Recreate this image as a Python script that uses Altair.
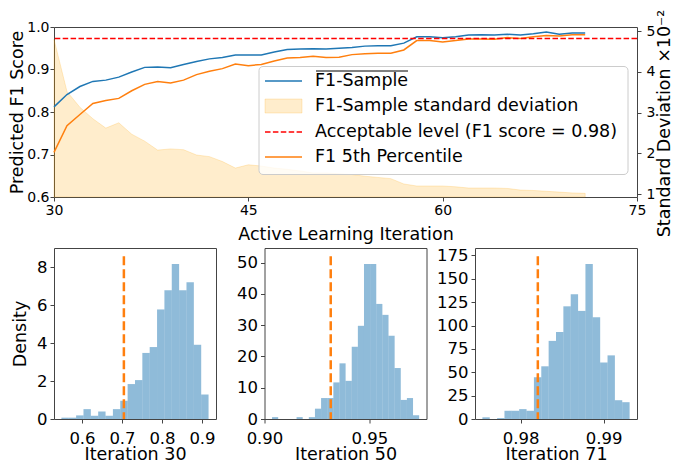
import altair as alt
import numpy as np
import pandas as pd

FONT = "DejaVu Sans"

# ---------------- top panel data ----------------
iterations = list(range(30, 72))
f1_mean = [0.812, 0.841, 0.860, 0.872, 0.875, 0.882, 0.894, 0.905, 0.906, 0.904,
           0.912, 0.919, 0.925, 0.928, 0.934, 0.934, 0.934, 0.941, 0.947, 0.948,
           0.949, 0.948, 0.950, 0.952, 0.955, 0.956, 0.956, 0.962, 0.977, 0.977,
           0.975, 0.977, 0.981, 0.982, 0.981, 0.983, 0.981, 0.984, 0.988, 0.983,
           0.986, 0.986]
f1_p5 = [0.705, 0.768, 0.794, 0.820, 0.827, 0.832, 0.850, 0.865, 0.872, 0.868,
         0.875, 0.888, 0.896, 0.902, 0.913, 0.909, 0.912, 0.920, 0.927, 0.928,
         0.931, 0.928, 0.929, 0.935, 0.937, 0.938, 0.938, 0.946, 0.968, 0.968,
         0.965, 0.968, 0.972, 0.972, 0.971, 0.975, 0.973, 0.977, 0.980, 0.979,
         0.982, 0.982]
std_dev = [4.80, 3.52, 3.13, 2.85, 2.62, 2.75, 2.47, 2.30, 2.08, 2.11,
           2.09, 1.96, 1.92, 1.80, 1.64, 1.72, 1.69, 1.64, 1.61, 1.57,
           1.52, 1.52, 1.50, 1.48, 1.44, 1.41, 1.38, 1.25, 1.20, 1.20,
           1.20, 1.18, 1.15, 1.15, 1.15, 1.14, 1.10, 1.09, 1.07, 1.05,
           1.03, 1.02]
acceptable_level = 0.973
legend_labels = ["F1-Sample", "F1-Sample standard deviation",
                 "Acceptable level (F1 score = 0.98)", "F1 5th Percentile"]

# ---------------- histogram data ----------------
h30_range = [0.5485, 0.9164]
h30_density = [0.07, 0.07, 0.19, 0.52, 0.17, 0.40, 0.17, 0.52, 0.96, 1.84,
               2.05, 3.48, 3.79, 5.77, 6.78, 8.17, 6.78, 7.20, 3.91, 1.29]
h30_p5 = 0.7047

h50_range = [0.9036, 0.9738]
h50_density = [0.6, 0, 0, 0, 0.6, 0, 0.6, 3.3, 6.7, 6.7, 11.7, 17.8,
               12.2, 23.1, 29.8, 49.6, 49.6, 36.8, 33.3, 26.6, 16.3, 6.1, 6.7, 1.2]
h50_p5 = 0.9316

h71_range = [0.97538, 0.99312]
h71_density = [1.8, 0, 1.0, 8.8, 8.8, 10.6, 8.8, 44.8, 56.4, 83.6,
               93.1, 120.6, 133.6, 115.7, 166.0, 109.0, 60.6, 68.1, 20.1, 18.0]
h71_p5 = 0.98206

TOP_W, TOP_H = 583, 170
H_W, H_H = 162, 171
H_SPACING = (TOP_W - 3 * H_W) / 2
TICK_TOP = 14
TICK_H = 16.5
TITLE_FS = 17.5

BLUE = "#1f77b4"
ORANGE = "#ff7f0e"

df_top = pd.DataFrame({"iteration": iterations, "mean": f1_mean,
                       "p5": f1_p5, "std": std_dev})

x_top = alt.X("iteration:Q",
              scale=alt.Scale(domain=[30, 75], nice=False, zero=False),
              axis=alt.Axis(values=[30, 45, 60, 75], title="Active Learning Iteration",
                            labelFontSize=TICK_TOP, labelFlush=False, labelOverlap=False,
                            labelPadding=2.5, titlePadding=8))


def y_f1(field):
    return alt.Y(field, scale=alt.Scale(domain=[0.6, 1.0], nice=False, zero=False),
                 axis=alt.Axis(orient="left", values=[0.6, 0.7, 0.8, 0.9, 1.0], format=".1f",
                               title="Predicted F1 Score", labelFontSize=TICK_TOP,
                               labelOverlap=False, labelPadding=1, titlePadding=0))


STD_MIN = 0.93
area = alt.Chart(df_top).mark_area(fill="orange", fillOpacity=0.2, stroke="orange",
                                   strokeOpacity=0.2, strokeWidth=1).encode(
    x=x_top,
    y=alt.Y("std:Q", scale=alt.Scale(domain=[STD_MIN, 5.1], nice=False, zero=False),
            axis=alt.Axis(orient="right", values=[1, 2, 3, 4, 5], format="d",
                          title="Standard Deviation ×10⁻²", labelFontSize=TICK_TOP,
                          labelOverlap=False, labelPadding=5, titlePadding=1,
                          titleAngle=270, titleBaseline="top", titleY=96)),
    y2=alt.datum(STD_MIN),
)

blue = alt.Chart(df_top).mark_line(color=BLUE, strokeWidth=1.5).encode(x=x_top, y=y_f1("mean:Q"))
orange = alt.Chart(df_top).mark_line(color=ORANGE, strokeWidth=1.5).encode(x=x_top, y=y_f1("p5:Q"))
red = alt.Chart(pd.DataFrame({"lvl": [acceptable_level]})).mark_rule(
    color="red", strokeDash=[5.5, 2.4], strokeWidth=1.5).encode(y=y_f1("lvl:Q"))

f1_layer = alt.layer(blue, orange, red)

dummy = pd.DataFrame({"a": [0]})
LX0, LX1, LY0, LY1 = 205, 574, 39.5, 147.5
rows = [54, 79, 105, 130]
SW0, SW1, TX = 211, 248, 261

leg_box = alt.Chart(dummy).mark_rect(fill="white", fillOpacity=0.8, stroke="#cccccc",
                                     strokeWidth=1, cornerRadius=4).encode(
    x=alt.value(LX0), x2=alt.value(LX1), y=alt.value(LY0), y2=alt.value(LY1))
leg_l1 = alt.Chart(dummy).mark_rule(color=BLUE, strokeWidth=1.5).encode(
    x=alt.value(SW0), x2=alt.value(SW1), y=alt.value(rows[0]))
leg_l2 = alt.Chart(dummy).mark_rect(fill="orange", fillOpacity=0.2, stroke="orange",
                                    strokeOpacity=0.2).encode(
    x=alt.value(SW0), x2=alt.value(SW1), y=alt.value(rows[1] - 7), y2=alt.value(rows[1] + 7))
leg_l3 = alt.Chart(dummy).mark_rule(color="red", strokeWidth=1.5, strokeDash=[5.5, 2.4]).encode(
    x=alt.value(SW0), x2=alt.value(SW1), y=alt.value(rows[2]))
leg_l4 = alt.Chart(dummy).mark_rule(color=ORANGE, strokeWidth=1.5).encode(
    x=alt.value(SW0), x2=alt.value(SW1), y=alt.value(rows[3]))
leg_texts = [
    alt.Chart(dummy).mark_text(align="left", baseline="middle", font=FONT,
                               fontSize=TITLE_FS, color="black").encode(
        x=alt.value(TX), y=alt.value(ry), text=alt.value(lab))
    for lab, ry in zip(legend_labels, rows)
]
overline = alt.Chart(dummy).mark_rule(color="black", strokeWidth=1).encode(
    x=alt.value(TX + 1), x2=alt.value(TX + 93), y=alt.value(rows[0] - 10))

top = alt.layer(area, f1_layer, leg_box, leg_l1, leg_l2, leg_l3, leg_l4, *leg_texts,
                overline).resolve_scale(y="independent").properties(width=TOP_W, height=TOP_H)


def hist(rng, dens, p5, xdom, xticks, xfmt, ytop, yticks, xtitle, ytitle):
    n = len(dens)
    edges = np.linspace(rng[0], rng[1], n + 1)
    d = pd.DataFrame({"left": edges[:-1], "right": edges[1:], "h": dens})
    xscale = alt.Scale(domain=xdom, nice=False, zero=False)
    xaxis = alt.Axis(values=xticks, format=xfmt, title=xtitle, labelFlush=False,
                     labelOverlap=False, labelPadding=7.5, titlePadding=-2)
    yscale = alt.Scale(domain=[0, ytop], nice=False)
    yaxis = alt.Axis(values=yticks, format="d", title=ytitle, titlePadding=7,
                     labelOverlap=False, labelPadding=3)
    bars = alt.Chart(d).mark_rect(color=BLUE, opacity=0.5).encode(
        x=alt.X("left:Q", scale=xscale, axis=xaxis), x2="right:Q",
        y=alt.Y("h:Q", scale=yscale, axis=yaxis), y2=alt.datum(0))
    vl = alt.Chart(pd.DataFrame({"left": [p5], "h": [max(dens) * 1.05]})).mark_rule(
        color=ORANGE, strokeDash=[9, 4], strokeWidth=2.5).encode(
        x=alt.X("left:Q", scale=xscale, axis=xaxis),
        y=alt.Y("h:Q", scale=yscale, axis=yaxis), y2=alt.datum(0))
    return alt.layer(bars, vl).properties(width=H_W, height=H_H)


h1 = hist(h30_range, h30_density, h30_p5, [0.530, 0.935], [0.6, 0.7, 0.8, 0.9], ".1f",
          max(h30_density) * 1.05 * 1.05, [0, 2, 4, 6, 8], "Iteration 30", "Density")
h2 = hist(h50_range, h50_density, h50_p5, [0.9000, 0.9773], [0.90, 0.95], ".2f",
          max(h50_density) * 1.05 * 1.05, [0, 10, 20, 30, 40, 50], "Iteration 50", None)
h3 = hist(h71_range, h71_density, h71_p5, [0.97449, 0.99401], [0.98, 0.99], ".2f",
          max(h71_density) * 1.05 * 1.05, [0, 25, 50, 75, 100, 125, 150, 175],
          "Iteration 71", None)

bottom = alt.hconcat(h1, h2, h3, spacing=H_SPACING, bounds="flush")

chart = alt.vconcat(top, bottom, spacing=51, bounds="flush").properties(
    padding={"left": 0, "top": 0, "right": 0, "bottom": 0}
).configure_view(stroke="#444444", strokeWidth=1).configure_axis(
    grid=False, domain=False, tickColor="#444444", tickSize=4, tickWidth=1,
    labelFont=FONT, labelFontSize=TICK_H, labelColor="black", labelPadding=3,
    titleFont=FONT, titleFontSize=TITLE_FS, titleFontWeight="normal", titleColor="black",
)

chart.save("out.html", embed_options={"renderer": "svg", "actions": False})
